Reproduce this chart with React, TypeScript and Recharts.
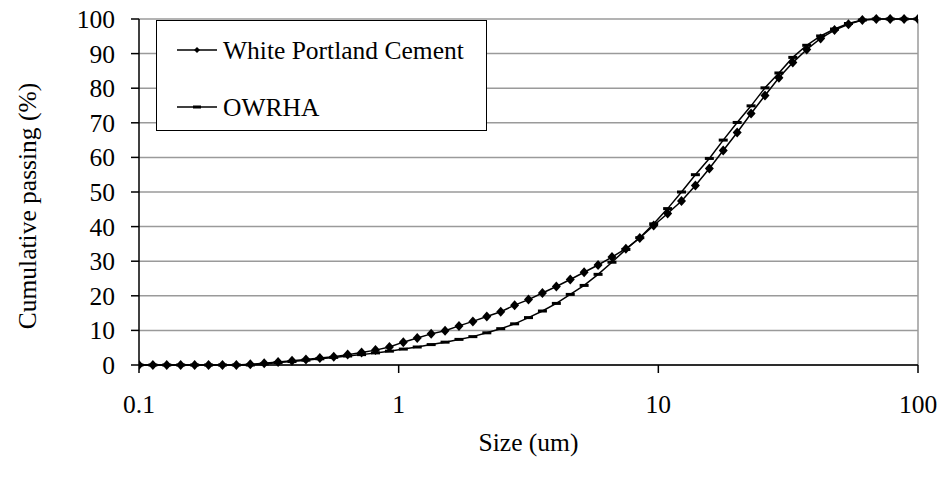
import { CartesianGrid, Legend, Line, LineChart, ReferenceLine, XAxis, YAxis } from "recharts";

// particle size classes (um)
const sizes = [
  0.1, 0.1131, 0.1279, 0.1447, 0.1638, 0.1853, 0.2096, 0.2371, 0.2683, 0.3035,
  0.3433, 0.3884, 0.4394, 0.4971, 0.5623, 0.6362, 0.7197, 0.8142, 0.9211, 1.042,
  1.179, 1.334, 1.509, 1.707, 1.931, 2.185, 2.472, 2.796, 3.162, 3.578,
  4.048, 4.579, 5.179, 5.86, 6.629, 7.499, 8.483, 9.597, 10.86, 12.28,
  13.89, 15.72, 17.78, 20.12, 22.76, 25.75, 29.13, 32.95, 37.28, 42.17,
  47.71, 53.97, 61.05, 69.07, 78.14, 88.39, 100,
];

const whitePortland = [
  0, 0, 0, 0, 0, 0, 0, 0, 0.2, 0.5,
  0.9, 1.2, 1.6, 2.0, 2.4, 3.0, 3.6, 4.3, 5.2, 6.6,
  7.8, 9.0, 9.9, 11.3, 12.6, 14.0, 15.4, 17.3, 18.9, 20.8,
  22.7, 24.7, 26.8, 28.9, 31.2, 33.6, 36.7, 40.3, 43.8, 47.4,
  51.9, 56.8, 62.0, 67.2, 72.7, 77.9, 83.0, 87.4, 91.2, 94.4,
  96.8, 98.5, 99.7, 100, 100, 100, 100,
];

const owrha = [
  0, 0, 0, 0, 0, 0, 0, 0, 0, 0.3,
  0.7, 1.0, 1.4, 1.8, 2.2, 2.6, 3.0, 3.5, 4.0, 4.6,
  5.2, 5.9, 6.6, 7.4, 8.2, 9.3, 10.5, 11.9, 13.7, 15.6,
  17.8, 20.4, 23.0, 26.2, 29.7, 33.4, 36.8, 40.8, 45.2, 50.0,
  55.0, 59.7, 65.0, 70.1, 74.9, 80.1, 84.4, 88.9, 92.4, 95.1,
  97.1, 98.7, 99.7, 100, 100, 100, 100,
];

const xTicks = [0.1, 1, 10, 100];
const yTicks = [0, 10, 20, 30, 40, 50, 60, 70, 80, 90, 100];

const FONT = '"Liberation Serif", "Times New Roman", serif';
const FS = 25.5;

const data = sizes.map((size, i) => ({
  size,
  wpc: whitePortland[i],
  owrha: owrha[i],
}));

function DiamondDot(props: any) {
  const { cx, cy } = props;
  if (cx == null || cy == null) return null;
  return (
    <path
      d={`M${cx},${cy - 5}L${cx + 4.5},${cy}L${cx},${cy + 5}L${cx - 4.5},${cy}Z`}
      fill="#000"
    />
  );
}

function DashDot(props: any) {
  const { cx, cy } = props;
  if (cx == null || cy == null) return null;
  return <rect x={cx - 4.5} y={cy - 1.5} width={9} height={3} fill="#000" />;
}

function LegendBox() {
  return (
    <div
      style={{
        width: 329,
        height: 109,
        border: "1.5px solid #000",
        background: "#fff",
        boxSizing: "content-box",
      }}
    >
      <svg width={329} height={109}>
        <line x1={20} x2={60} y1={29} y2={29} stroke="#000" strokeWidth={1.5} />
        <path d="M40,26L43,29L40,32L37,29Z" fill="#000" />
        <text x={66} y={29} dominantBaseline="central" fontFamily={FONT} fontSize={FS}>
          White Portland Cement
        </text>
        <line x1={20} x2={60} y1={86} y2={86} stroke="#000" strokeWidth={1.5} />
        <rect x={36} y={84.5} width={8} height={3} fill="#000" />
        <text x={66} y={86} dominantBaseline="central" fontFamily={FONT} fontSize={FS}>
          OWRHA
        </text>
      </svg>
    </div>
  );
}

function YTitle() {
  return (
    <text
      x={27}
      y={206}
      transform="rotate(-90, 27, 206)"
      textAnchor="middle"
      dominantBaseline="central"
      fontFamily={FONT}
      fontSize={FS}
      fill="#000"
    >
      Cumulative passing (%)
    </text>
  );
}

function XTitle({ viewBox }: any) {
  const cx = viewBox ? viewBox.x + viewBox.width / 2 : 528;
  return (
    <text
      x={cx}
      y={442}
      textAnchor="middle"
      dominantBaseline="central"
      fontFamily={FONT}
      fontSize={FS}
      fill="#000"
    >
      Size (um)
    </text>
  );
}

export default function App() {
  return (
    <div style={{ position: "absolute", left: 0, top: 0, background: "#fff" }}>
      <LineChart
        width={943}
        height={478}
        data={data}
        margin={{ top: 19, right: 25, bottom: 83, left: 0 }}
      >
        <CartesianGrid horizontal vertical={false} stroke="#9a9a9a" strokeWidth={1.5} />
        <ReferenceLine x={100} stroke="#9a9a9a" strokeWidth={1.5} />
        <XAxis
          dataKey="size"
          type="number"
          scale="log"
          domain={[0.1, 100]}
          ticks={xTicks}
          interval={0}
          height={30}
          allowDataOverflow
          tickFormatter={(v: number) => String(v)}
          tick={{ fill: "#000", fontSize: FS, fontFamily: FONT }}
          axisLine={{ stroke: "#000", strokeWidth: 1.5 }}
          tickLine={{ stroke: "#000", strokeWidth: 1.5 }}
          tickSize={8}
          tickMargin={22}
          label={<XTitle />}
        />
        <YAxis
          type="number"
          domain={[0, 100]}
          ticks={yTicks}
          interval={0}
          width={139}
          tick={{ fill: "#000", fontSize: FS, fontFamily: FONT }}
          axisLine={{ stroke: "#000", strokeWidth: 1.5 }}
          tickLine={{ stroke: "#000", strokeWidth: 1.5 }}
          tickSize={8}
          tickMargin={16}
          label={<YTitle />}
        />
        <Legend
          layout="vertical"
          align="center"
          verticalAlign="middle"
          wrapperStyle={{ left: 156, top: 20, width: "auto", height: "auto" }}
          content={() => <LegendBox />}
        />
        <Line
          dataKey="owrha"
          type="linear"
          stroke="#000"
          strokeWidth={1.5}
          dot={<DashDot />}
          isAnimationActive={false}
        />
        <Line
          dataKey="wpc"
          type="linear"
          stroke="#000"
          strokeWidth={1.5}
          dot={<DiamondDot />}
          isAnimationActive={false}
        />
      </LineChart>
    </div>
  );
}
